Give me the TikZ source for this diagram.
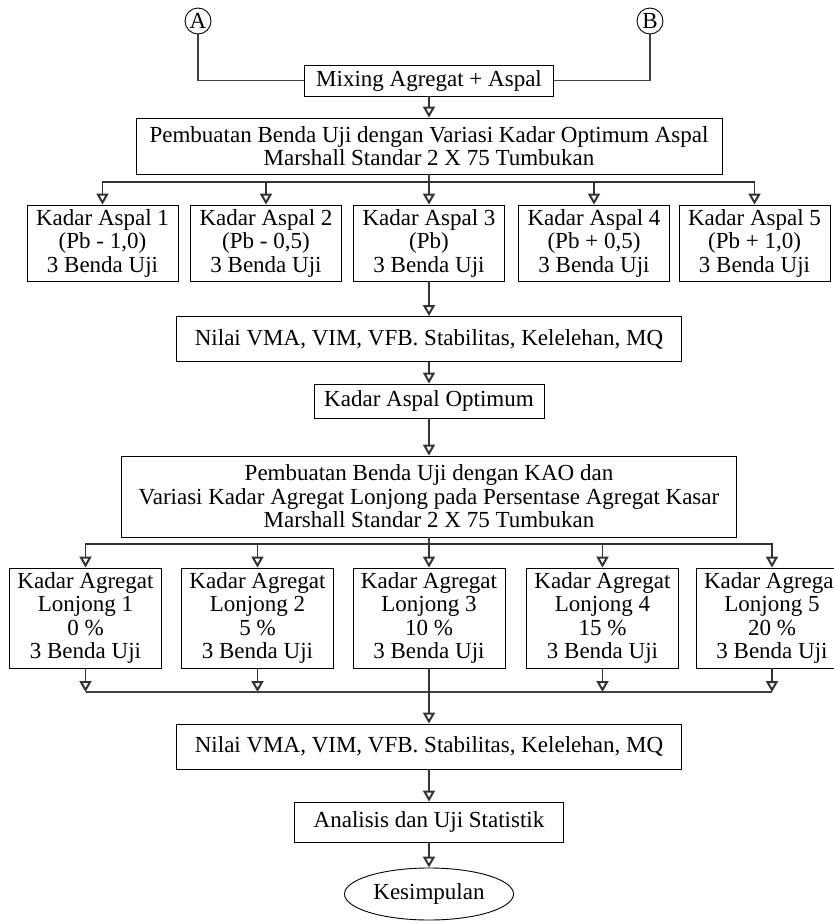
\documentclass[tikz,border=0pt]{standalone}
\usepackage{fontspec}
\setmainfont{Liberation Serif}
\usetikzlibrary{shapes.geometric,arrows.meta,positioning}

\tikzset{
    box/.style={draw, rectangle, align=center, inner sep=0pt, line width=0.9pt},
    aspalbox/.style={box, minimum width=151pt, minimum height=76pt},
    lonjongbox/.style={box, minimum width=152pt, minimum height=100pt},
    konektor/.style={draw, circle, inner sep=0pt, minimum size=26pt, line width=0.9pt},
    garis/.style={draw=black!75, line width=1.2pt},
    panah/.style={garis, -{Triangle[open, length=11pt, width=12pt, line width=2pt]}, draw=black!80}
}

\begin{document}
\begin{tikzpicture}[x=1pt, y=-1pt, font=\fontsize{23}{23.5}\selectfont]
        \useasboundingbox (0,0) rectangle (834,924);
        \node[konektor] (A) at (198,21) {A};
        \node[konektor] (B) at (650,21) {B};
        \node[box, minimum width=249pt, minimum height=31pt] (mix) at (429,80.5) {Mixing Agregat + Aspal};
        \node[box, minimum width=586pt, minimum height=56pt] (uji1) at (429,146) {Pembuatan Benda Uji dengan Variasi Kadar Optimum Aspal\\Marshall Standar 2 X 75 Tumbukan};
        \coordinate (bus1) at (429,182);
        \node[aspalbox] (ka1) at (102.5,243) {Kadar Aspal 1\\(Pb - 1,0)\\3 Benda Uji};
        \node[aspalbox] (ka2) at (266,243) {Kadar Aspal 2\\(Pb - 0,5)\\3 Benda Uji};
        \node[aspalbox] (ka3) at (429,243) {Kadar Aspal 3\\(Pb)\\3 Benda Uji};
        \node[aspalbox] (ka4) at (594,243) {Kadar Aspal 4\\(Pb + 0,5)\\3 Benda Uji};
        \node[aspalbox] (ka5) at (754.5,243) {Kadar Aspal 5\\(Pb + 1,0)\\3 Benda Uji};
        \node[box, minimum width=505pt, minimum height=45pt] (nilai1) at (429,339) {Nilai VMA, VIM, VFB. Stabilitas, Kelelehan, MQ};
        \node[box, minimum width=230pt, minimum height=34pt] (kao) at (429,401) {Kadar Aspal Optimum};
        \node[box, minimum width=615pt, minimum height=81pt] (uji2) at (429,496.5) {Pembuatan Benda Uji dengan KAO dan\\Variasi Kadar Agregat Lonjong pada Persentase Agregat Kasar\\Marshall Standar 2 X 75 Tumbukan};
        \coordinate (bus2) at (429,544);
        \node[lonjongbox] (kl1) at (85.5,618) {Kadar Agregat\\Lonjong 1\\0 \%\\3 Benda Uji};
        \node[lonjongbox] (kl2) at (257.5,618) {Kadar Agregat\\Lonjong 2\\5 \%\\3 Benda Uji};
        \node[lonjongbox] (kl3) at (429,618) {Kadar Agregat\\Lonjong 3\\10 \%\\3 Benda Uji};
        \node[lonjongbox] (kl4) at (602.5,618) {Kadar Agregat\\Lonjong 4\\15 \%\\3 Benda Uji};
        \node[lonjongbox] (kl5) at (772,618) {Kadar Agregat\\Lonjong 5\\20 \%\\3 Benda Uji};
        \coordinate (bus3) at (429,692);
        \node[box, minimum width=505pt, minimum height=45pt] (nilai2) at (429,746.5) {Nilai VMA, VIM, VFB. Stabilitas, Kelelehan, MQ};
        \node[box, minimum width=269pt, minimum height=40pt] (analisis) at (429,822) {Analisis dan Uji Statistik};
        \node[box, ellipse, minimum width=169pt, minimum height=52pt] (kesimpulan) at (429,894) {Kesimpulan};
        % sambungan atas
        \draw[garis] (A) |- (mix);
        \draw[garis] (B) |- (mix);
        \draw[panah] (mix) -- (uji1);
        \draw[garis] (uji1) -- (bus1);
        \draw[panah] (bus1) -| (ka1);
        \draw[panah] (bus1) -| (ka2);
        \draw[panah] (bus1) -| (ka3);
        \draw[panah] (bus1) -| (ka4);
        \draw[panah] (bus1) -| (ka5);
        \draw[panah] (ka3) -- (nilai1);
        \draw[panah] (nilai1) -- (kao);
        \draw[panah] (kao) -- (uji2);
        % sambungan bawah
        \draw[garis] (uji2) -- (bus2);
        \draw[panah] (bus2) -| (kl1);
        \draw[panah] (bus2) -| (kl2);
        \draw[panah] (bus2) -| (kl3);
        \draw[panah] (bus2) -| (kl4);
        \draw[panah] (bus2) -| (kl5);
        \draw[panah] (kl1) -- (kl1 |- bus3);
        \draw[panah] (kl2) -- (kl2 |- bus3);
        \draw[panah] (kl4) -- (kl4 |- bus3);
        \draw[panah] (kl5) -- (kl5 |- bus3);
        \draw[garis] (kl1 |- bus3) -- (kl5 |- bus3);
        \draw[panah] (kl3) -- (nilai2);
        \draw[panah] (nilai2) -- (analisis);
        \draw[panah] (analisis) -- (kesimpulan);
    \end{tikzpicture}
\end{document}
